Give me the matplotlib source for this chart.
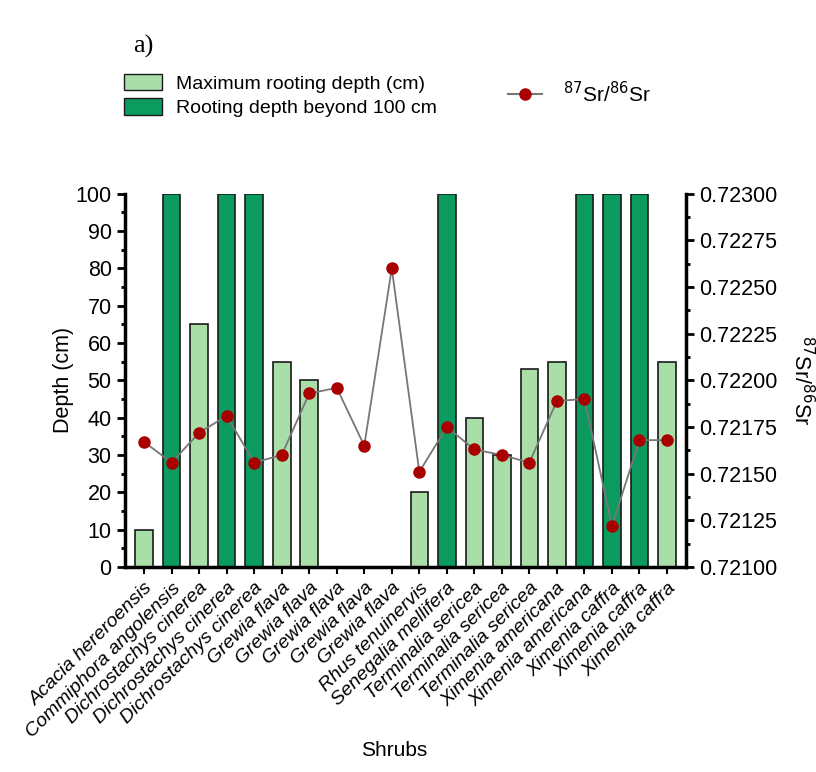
import numpy as np
import matplotlib
matplotlib.use("Agg")
from matplotlib import pyplot as plt
from matplotlib.patches import Patch
from matplotlib.lines import Line2D
from matplotlib.ticker import MultipleLocator, FormatStrFormatter

plt.rcParams["font.family"] = ["Liberation Sans", "DejaVu Sans"]

shrubs = ["Acacia hereroensis", "Commiphora angolensis", "Dichrostachys cinerea",
          "Dichrostachys cinerea", "Dichrostachys cinerea", "Grewia flava", "Grewia flava",
          "Grewia flava", "Grewia flava", "Grewia flava", "Rhus tenuinervis",
          "Senegalia mellifera", "Terminalia sericea", "Terminalia sericea",
          "Terminalia sericea", "Ximenia americana", "Ximenia americana",
          "Ximenia caffra", "Ximenia caffra", "Ximenia caffra"]
nan = np.nan
max_depth = [10, nan, 65, nan, nan, 55, 50, nan, nan, nan, 20, nan, 40, 30, 53, 55,
             nan, nan, nan, 55]
beyond_100 = [nan, 100, nan, 100, 100, nan, nan, nan, nan, nan, nan, 100, nan, nan, nan,
              nan, 100, 100, 100, nan]
sr_ratio = [0.72167, 0.72156, 0.72172, 0.72181, 0.72156, 0.72160, 0.72193, 0.72196,
            0.72165, 0.72260, 0.72151, 0.72175, 0.72163, 0.72160, 0.72156, 0.72189,
            0.72190, 0.72122, 0.72168, 0.72168]

light = "#a9dea9"
dark = "#0c9b5f"
red = "#a80000"

fig = plt.figure(figsize=(8.16, 7.72), dpi=100)
ax = fig.add_axes([0.153, 0.2655, 0.688, 0.4835])
x = np.arange(len(shrubs))

ax.bar(x, max_depth, width=0.64, color=light, edgecolor="#1a1a1a", linewidth=1.2, zorder=2)
ax.bar(x, beyond_100, width=0.64, color=dark, edgecolor="#1a1a1a", linewidth=1.2, zorder=2)
ax.set_xlim(-0.7, len(shrubs) - 0.3)
ax.set_ylim(0, 100)
ax.yaxis.set_major_locator(MultipleLocator(10))
ax.yaxis.set_minor_locator(MultipleLocator(5))
ax.set_xticks(x)
ax.set_xticklabels(shrubs, rotation=45, ha="right", rotation_mode="anchor",
                   fontsize=14, style="italic")
ax.tick_params(axis="y", labelsize=15.5, width=2, length=6)
ax.tick_params(axis="y", which="minor", width=2, length=3)
ax.tick_params(axis="x", width=1.5, length=5, pad=4)
ax.set_ylabel("Depth (cm)", fontsize=15.5, labelpad=1)
ax.set_xlabel("Shrubs", fontsize=15)
ax.xaxis.set_label_coords(0.48, -0.465)
for s in ["top", "right"]:
    ax.spines[s].set_visible(False)
for s in ["left", "bottom"]:
    ax.spines[s].set_linewidth(2.5)

ax2 = ax.twinx()
ax2.plot(x, sr_ratio, color="#777777", linewidth=1.3, marker="o", markersize=8,
         markerfacecolor=red, markeredgecolor=red, zorder=3)
ax2.set_ylim(0.721, 0.723)
ax2.yaxis.set_major_locator(MultipleLocator(0.00025))
ax2.yaxis.set_minor_locator(MultipleLocator(0.000125))
ax2.yaxis.set_major_formatter(FormatStrFormatter("%.5f"))
ax2.tick_params(axis="y", labelsize=15.5, width=2, length=6)
ax2.tick_params(axis="y", which="minor", width=2, length=3)
ax2.set_ylabel("$^{87}$Sr/$^{86}$Sr", fontsize=15.5, rotation=270, labelpad=26)
for s in ["top", "left", "bottom"]:
    ax2.spines[s].set_visible(False)
ax2.spines["right"].set_linewidth(2.5)

bar_handles = [Patch(facecolor=light, edgecolor="#1a1a1a", label="Maximum rooting depth (cm)"),
               Patch(facecolor=dark, edgecolor="#1a1a1a", label="Rooting depth beyond 100 cm")]
fig.legend(handles=bar_handles, loc="upper left", bbox_to_anchor=(0.13, 0.927),
           frameon=False, fontsize=14, handlelength=2.0, handleheight=0.9,
           labelspacing=0.3, handletextpad=0.7)
line_handle = [Line2D([0], [0], color="#777777", marker="o", markersize=8,
                      markerfacecolor=red, markeredgecolor=red, label="$^{87}$Sr/$^{86}$Sr")]
fig.legend(handles=line_handle, loc="upper left", bbox_to_anchor=(0.6, 0.92),
           frameon=False, fontsize=15, handlelength=1.6, handletextpad=1.0)

fig.text(0.163, 0.94, "a)", fontsize=19, family=["Liberation Serif", "DejaVu Serif"],
         va="center")

fig.savefig("out.png", dpi=100)
